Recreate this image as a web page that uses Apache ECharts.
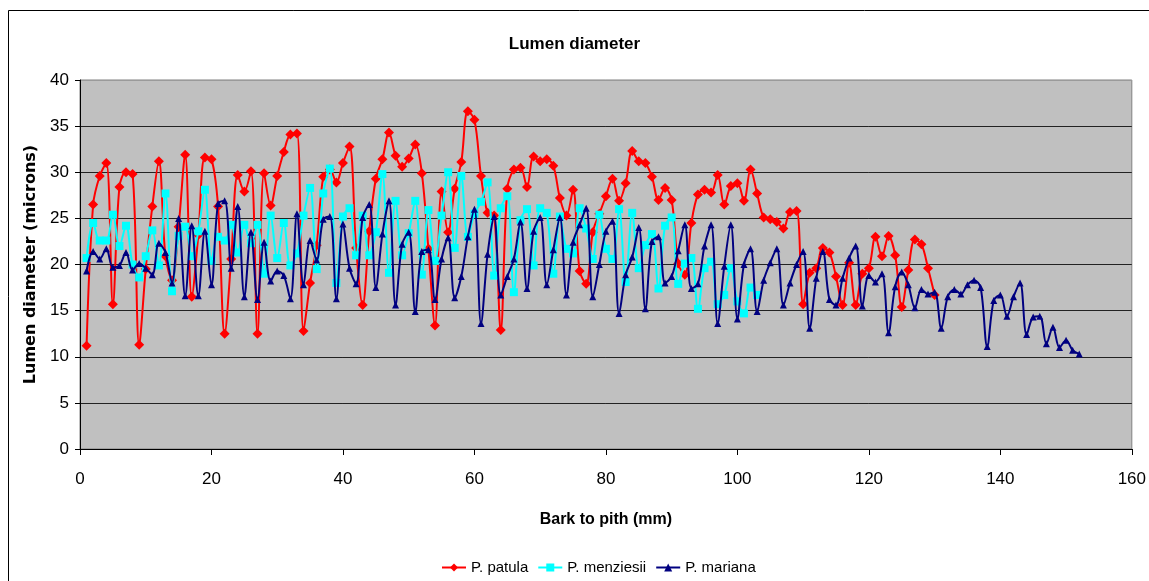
<!DOCTYPE html>
<html>
<head>
<meta charset="utf-8">
<script src="https://cdn.jsdelivr.net/npm/echarts@6/dist/echarts.min.js"></script>
<style>
html,body{margin:0;padding:0;background:#fff;}
#chart{width:1149px;height:581px;}
</style>
</head>
<body>
<div id="chart"></div>
<script>
// Lumen diameter (microns) per mm position, bark to pith (1 mm steps starting at 1 mm)
const patula = [11.2,26.5,29.6,31.0,15.7,28.4,30.0,29.8,11.3,19.5,
26.3,31.2,20.9,18.3,24.1,31.9,16.5,23.2,31.6,31.4,
26.3,12.5,20.6,29.7,27.9,30.1,12.5,29.9,26.4,29.6,
32.2,34.1,34.2,12.8,18.0,22.1,29.5,30.3,28.9,31.0,
32.8,21.8,15.6,23.6,29.3,31.4,34.3,31.8,30.6,31.5,
33.0,29.9,21.7,13.4,27.9,23.5,28.2,31.1,36.6,35.7,
29.6,25.6,25.3,12.9,28.2,30.3,30.5,28.4,31.7,31.2,
31.4,30.7,27.2,25.3,28.1,19.3,17.9,23.5,25.5,27.4,
29.3,26.9,28.8,32.3,31.2,31.0,29.5,27.0,28.3,27.0,
20.1,18.9,24.5,27.6,28.1,27.8,29.7,26.5,28.5,28.8,
26.9,30.3,27.7,25.1,24.9,24.6,23.9,25.7,25.8,15.7,
19.1,19.6,21.8,21.3,18.7,15.6,20.2,15.6,19.0,19.6,
23.0,20.9,23.1,21.0,15.4,19.4,22.7,22.2,19.6,16.7];

const menziesii = [20.7,24.5,22.6,22.6,25.4,22.0,24.2,20.0,18.6,20.9,
23.7,19.9,27.7,17.1,23.1,24.1,20.9,23.6,28.1,20.4,
23.0,22.6,24.3,21.3,24.3,22.3,24.3,19.0,25.3,20.7,
24.5,19.9,21.2,25.3,28.3,19.5,27.7,30.4,18.0,25.2,
26.1,21.0,25.3,21.0,23.5,29.8,19.1,26.9,21.0,23.4,
26.9,18.9,25.9,20.4,25.3,30.0,21.8,29.6,23.0,25.5,
26.8,28.9,18.8,26.1,27.4,17.0,24.8,26.0,19.9,26.1,
25.6,19.0,25.2,21.7,21.2,26.1,23.9,20.6,25.4,21.7,
20.6,26.0,18.1,25.6,19.6,22.1,23.3,17.4,24.2,25.1,
17.9,20.1,20.7,15.2,19.6,20.3,15.7,16.7,19.6,16.0,
14.7,17.5,16.7];

const mariana = [19.3,21.4,20.6,21.7,19.7,19.9,21.3,19.4,20.1,19.6,
18.9,22.3,21.3,18.0,25.0,16.6,24.2,16.6,23.6,17.8,
26.6,26.9,19.6,26.3,16.5,23.5,16.2,22.4,18.2,19.3,
18.8,16.3,25.5,17.8,22.6,20.5,24.9,25.2,16.3,24.4,
19.6,17.9,25.1,26.5,17.5,23.3,26.9,15.6,22.2,23.5,
14.9,21.4,21.6,16.2,20.6,22.9,16.4,18.7,23.0,26.0,
13.6,21.1,25.2,16.7,18.7,20.6,24.6,17.4,23.6,25.1,
17.8,21.6,25.1,16.7,22.4,24.3,26.1,16.5,20.0,23.6,
24.7,14.7,18.9,20.8,24.0,15.2,22.5,23.0,18.0,18.7,
21.5,24.3,17.4,17.9,22.0,24.3,13.6,19.8,24.3,14.1,
20.0,21.7,14.9,18.3,20.2,21.7,15.6,18.0,20.0,21.4,
13.1,18.5,21.4,16.2,15.6,18.5,20.7,22.0,15.5,18.8,
18.1,19.0,12.6,17.6,19.2,17.8,15.3,17.3,16.8,17.0,
13.1,16.5,17.3,16.8,17.8,18.3,17.5,11.1,16.1,16.7,
14.4,16.5,18.0,12.4,14.3,14.4,11.4,13.2,11.0,11.8,
10.7,10.3];

const seriesNames = ['P. patula','P. menziesii','P. mariana'];
const titleText = 'Lumen diameter';
const xName = 'Bark to pith (mm)';
const yName = 'Lumen diameter (microns)';

function pairs(arr){ return arr.map((v,i)=>[i+1, v]); }

const FONT = "'Liberation Sans', Arial, sans-serif";
const chart = echarts.init(document.getElementById('chart'), null, {renderer:'canvas'});
chart.setOption({
  animation: false,
  backgroundColor: '#ffffff',
  textStyle: {fontFamily: FONT, color:'#000'},
  title: {
    text: titleText, left: 'center', top: 36, padding: 0,
    textStyle: {fontSize: 17, fontWeight: 'bold', color: '#000', fontFamily: FONT}
  },
  graphic: [{
    type: 'rect', silent: true, z: -1,
    shape: {x: 8.5, y: 10.5, width: 1200, height: 600},
    style: {fill: 'none', stroke: '#000', lineWidth: 1}
  }],
  legend: {
    left: 441, top: 560, padding: 0, itemGap: 9, itemWidth: 24, itemHeight: 10,
    textStyle: {fontSize: 15, color: '#000', fontFamily: FONT},
    data: seriesNames
  },
  grid: {
    left: 80, right: 16, top: 80, bottom: 132, show: true,
    backgroundColor: '#c0c0c0', borderColor: '#808080', borderWidth: 1
  },
  xAxis: {
    type: 'value', min: 0, max: 160, interval: 20,
    name: xName, nameLocation: 'middle', nameGap: 63,
    nameTextStyle: {fontSize: 16, fontWeight: 'bold', color: '#000', fontFamily: FONT},
    axisLine: {show: true, onZero: false, lineStyle: {color: '#000', width: 1}},
    axisTick: {show: true, inside: false, length: 6, lineStyle: {color: '#000'}},
    axisLabel: {fontSize: 17, color: '#000', margin: 22, fontFamily: FONT},
    splitLine: {show: false}
  },
  yAxis: {
    type: 'value', min: 0, max: 40, interval: 5,
    name: yName, nameLocation: 'middle', nameGap: 38, nameRotate: 90,
    nameTextStyle: {fontSize: 16, fontWeight: 'bold', color: '#000', fontFamily: "'DejaVu Sans', 'Liberation Sans', sans-serif"},
    axisLine: {show: true, lineStyle: {color: '#000', width: 1}},
    axisTick: {show: true, inside: false, length: 5, lineStyle: {color: '#000'}},
    axisLabel: {fontSize: 17, color: '#000', margin: 11, fontFamily: FONT},
    splitLine: {show: true, lineStyle: {color: ['#000','#222','#222','#222','#222','#222','#222','#222','#9a9a9a'], width: 1}}
  },
  series: [
    {
      name: seriesNames[0], type: 'line', data: pairs(patula),
      symbol: 'diamond', symbolSize: 10, showAllSymbol: true, smooth: 0.35,
      lineStyle: {color: '#ff0000', width: 2},
      itemStyle: {color: '#ff0000', borderWidth: 0},
      z: 2
    },
    {
      name: seriesNames[1], type: 'line', data: pairs(menziesii),
      symbol: 'rect', symbolSize: 8, showAllSymbol: true, smooth: 0.35,
      lineStyle: {color: '#00ffff', width: 2},
      itemStyle: {color: '#00ffff', borderWidth: 0},
      z: 3
    },
    {
      name: seriesNames[2], type: 'line', data: pairs(mariana),
      symbol: 'triangle', symbolSize: 7, showAllSymbol: true, smooth: 0.35,
      lineStyle: {color: '#000080', width: 2},
      itemStyle: {color: '#000080', borderWidth: 0},
      z: 4
    }
  ]
});
</script>
</body>
</html>
